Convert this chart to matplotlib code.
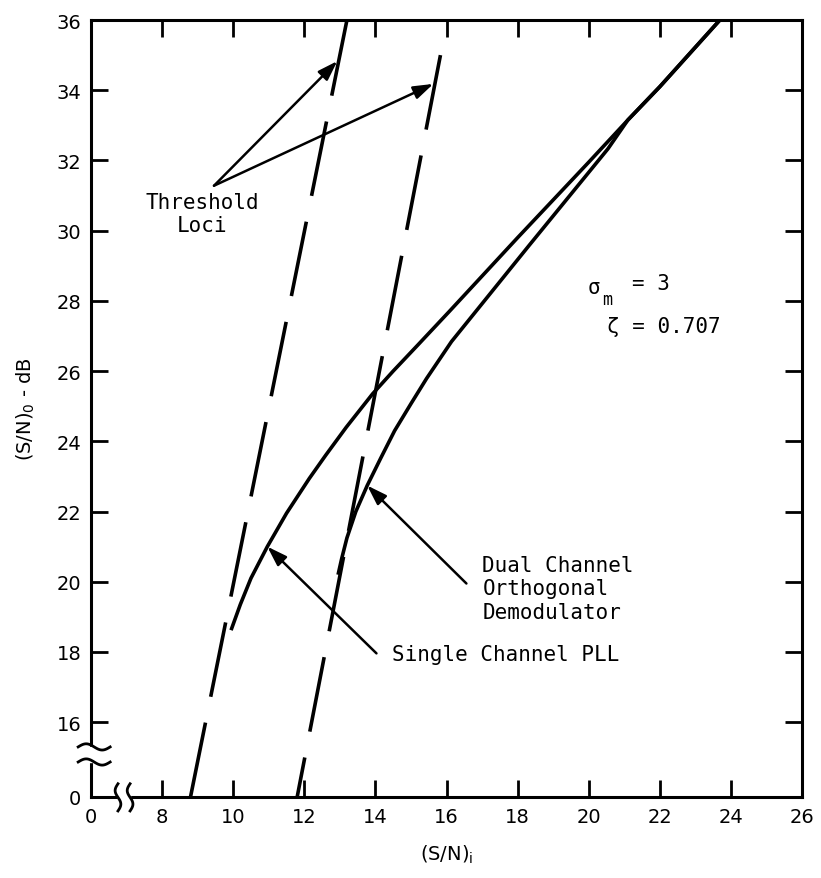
import numpy as np
import matplotlib.pyplot as plt
from matplotlib.patches import Rectangle

# Threshold loci (dashed), end points
loci_left_x = [8.8, 13.2]
loci_left_y = [0, 36]
loci_right_x = [15.83, 11.8]
loci_right_y = [35, 0]

# Single channel PLL
single_x = [9.94, 10.2, 10.5, 10.96, 11.5, 12.14, 12.6, 13.18, 13.92, 14.5, 15.2, 16.08,
            18.0, 20.0, 21.1, 22.0, 23.69]
single_y = [18.62, 19.35, 20.1, 21.0, 21.95, 22.94, 23.6, 24.4, 25.35, 26.0, 26.75, 27.7,
            29.8, 31.95, 33.15, 34.1, 36.0]

# Dual channel orthogonal demodulator
dual_x = [12.95, 13.05, 13.2, 13.45, 13.77, 14.15, 14.54, 15.0, 15.44, 16.14, 18.34,
          20.54, 21.1, 22.0, 23.69]
dual_y = [20.2, 20.65, 21.25, 22.0, 22.74, 23.52, 24.3, 25.07, 25.79, 26.84, 29.6,
          32.33, 33.15, 34.1, 36.0]

x_ticks = [0, 8, 10, 12, 14, 16, 18, 20, 22, 24, 26]
y_ticks = [0, 16, 18, 20, 22, 24, 26, 28, 30, 32, 34, 36]

# broken axes: 0..8 squeezed on x, 0..16 squeezed on y
XB, X0 = 8.0, 6.0
YB, Y0 = 16.0, 13.87


def xf(x):
    x = np.asarray(x, dtype=float)
    return np.where(x < XB, X0 + x * (XB - X0) / XB, x)


def xi(u):
    u = np.asarray(u, dtype=float)
    return np.where(u < XB, (u - X0) * XB / (XB - X0), u)


def yf(y):
    y = np.asarray(y, dtype=float)
    return np.where(y < YB, Y0 + y * (YB - Y0) / YB, y)


def yi(v):
    v = np.asarray(v, dtype=float)
    return np.where(v < YB, (v - Y0) * YB / (YB - Y0), v)


fig = plt.figure(figsize=(8.21, 8.79), dpi=100)
ax = fig.add_axes([0.1108, 0.0922, 0.8661, 0.8839])
ax.set_xscale('function', functions=(xf, xi))
ax.set_yscale('function', functions=(yf, yi))
ax.set_xlim(0, 26)
ax.set_ylim(0, 36)

lw = 2.6
dash = (0, (21, 7.3))
ax.plot(loci_left_x, loci_left_y, color='black', lw=lw, linestyle=dash)
ax.plot(loci_right_x, loci_right_y, color='black', lw=lw, linestyle=dash)
ax.plot(single_x, single_y, color='black', lw=lw, solid_capstyle='butt')
ax.plot(dual_x, dual_y, color='black', lw=lw, solid_capstyle='butt')

ax.set_xticks(x_ticks)
ax.set_yticks(y_ticks)
ax.minorticks_off()
ax.tick_params(direction='in', length=12, width=2, top=True, right=True,
               labelsize=14, pad=7)
for s in ax.spines.values():
    s.set_linewidth(2.2)

ax.set_xlabel(r'(S/N)$_\mathregular{i}$', fontsize=14, labelpad=12)
ax.set_ylabel(r'(S/N)$_\mathregular{0}$ - dB', fontsize=14, labelpad=14)

# annotations
mono = 'DejaVu Sans Mono'
arrow = dict(arrowstyle='-|>,head_length=0.6,head_width=0.2', color='black',
             lw=1.8, mutation_scale=20, shrinkA=0, shrinkB=0)
ax.text(9.13, 30.48, 'Threshold\nLoci', ha='center', va='center',
        multialignment='center', family=mono, fontsize=15)
ax.annotate('', xy=(12.93, 34.83), xytext=(9.46, 31.28), arrowprops=arrow)
ax.annotate('', xy=(15.63, 34.18), xytext=(9.46, 31.28), arrowprops=arrow)

ax.text(14.48, 17.93, 'Single Channel PLL', ha='left', va='center',
        family=mono, fontsize=15)
ax.annotate('', xy=(10.96, 21.0), xytext=(14.03, 17.96), arrowprops=arrow)

ax.text(17.01, 19.81, 'Dual Channel\nOrthogonal\nDemodulator', ha='left',
        va='center', family=mono, fontsize=15)
ax.annotate('', xy=(13.77, 22.74), xytext=(16.56, 19.95), arrowprops=arrow)

ax.text(19.97, 28.4, 'σ', ha='left', va='center', family=mono, fontsize=15)
ax.text(20.38, 28.05, 'm', ha='left', va='center', family=mono, fontsize=12)
ax.text(21.21, 28.5, '= 3', ha='left', va='center', family=mono, fontsize=15)
ax.text(20.51, 27.29, 'ζ = 0.707', ha='left', va='center', family=mono,
        fontsize=15)

# axis break marks
ta = ax.transAxes
ax.add_patch(Rectangle((-0.01, 0.045), 0.02, 0.0195, transform=ta,
                       color='white', clip_on=False, zorder=5))
ax.add_patch(Rectangle((0.038, -0.01), 0.017, 0.02, transform=ta,
                       color='white', clip_on=False, zorder=5))
t = np.linspace(0, 1, 60)
for yy in [0.0644, 0.045]:
    ax.plot(-0.018 + 0.045 * t, yy + 0.004 * np.sin(2 * np.pi * t),
            transform=ta, color='black', lw=2, clip_on=False, zorder=6)
for xx in [0.038, 0.055]:
    ax.plot(xx + 0.004 * np.sin(2 * np.pi * t), -0.018 + 0.035 * t,
            transform=ta, color='black', lw=2, clip_on=False, zorder=6)

fig.savefig('out.png', dpi=100)
